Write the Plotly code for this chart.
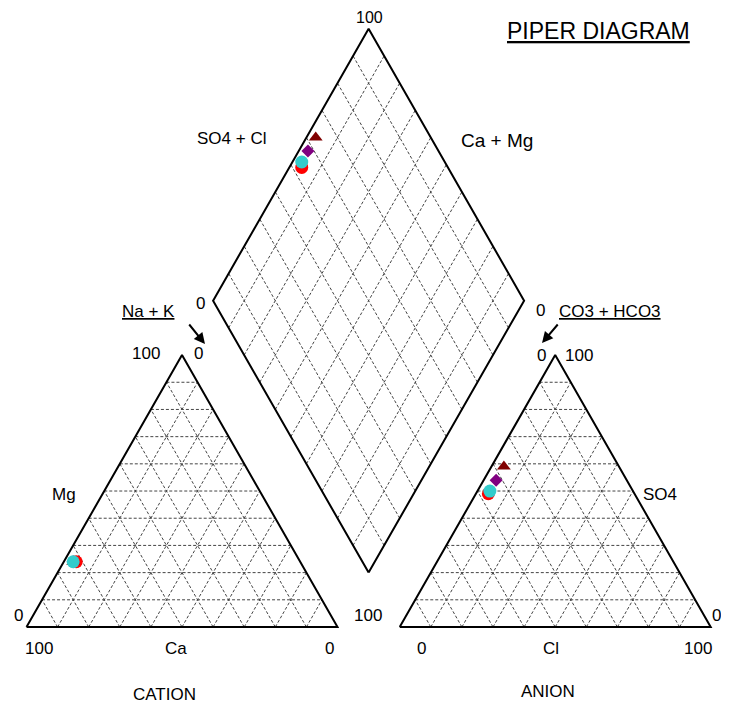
import numpy as np
import plotly.graph_objects as go

# ---------------- data (percent of meq) ----------------
samples = ["Sample 1", "Sample 4", "Sample 3", "Sample 2"]
ca = [72, 73, 73, 73]
mg = [24, 24, 24, 24]
na_k = [4, 3, 3, 3]
co3_hco3 = [47, 37, 42, 46]
so4 = [49, 59, 54, 50]
cl = [4, 4, 4, 4]
marker_symbols = ["circle", "triangle-up", "diamond", "circle"]
marker_colors = ["#FF0000", "#800000", "#800080", "#33CCCC"]
marker_sizes = [13, 12, 10, 13]

# ---------------- geometry ----------------
SQ = np.sqrt(3) / 2
GAP = 20.0
AN_X0 = 100 + GAP
DIA_X0 = 100 + GAP / 2
DIA_Y0 = GAP / 2 * np.sqrt(3)


def cation_xy(c, m, n):
    t = c + m + n
    m, n = 100 * m / t, 100 * n / t
    return n + m / 2, m * SQ


def anion_xy(c3, s4, c):
    t = c3 + s4 + c
    s4, c = 100 * s4 / t, 100 * c / t
    return AN_X0 + c + s4 / 2, s4 * SQ


def diamond_xy(a, b):
    # a = SO4 + Cl, b = Ca + Mg
    return DIA_X0 + 0.5 * (a - b), DIA_Y0 + SQ * (a + b)


fig = go.Figure()

# grid lines
gx, gy = [], []


def seg(p, q):
    gx.extend([p[0], q[0], None])
    gy.extend([p[1], q[1], None])


for k in range(10, 100, 10):
    # cation
    seg(cation_xy(100 - k, k, 0), cation_xy(0, k, 100 - k))
    seg(cation_xy(100 - k, 0, k), cation_xy(0, 100 - k, k))
    seg(cation_xy(k, 0, 100 - k), cation_xy(k, 100 - k, 0))
    # anion
    seg(anion_xy(100 - k, k, 0), anion_xy(0, k, 100 - k))
    seg(anion_xy(100 - k, 0, k), anion_xy(0, 100 - k, k))
    seg(anion_xy(k, 0, 100 - k), anion_xy(k, 100 - k, 0))
    # diamond
    seg(diamond_xy(k, 0), diamond_xy(k, 100))
    seg(diamond_xy(0, k), diamond_xy(100, k))

fig.add_trace(go.Scatter(x=gx, y=gy, mode="lines",
                         line=dict(color="#444444", width=1, dash="3px,2px"),
                         hoverinfo="skip", showlegend=False))

# outlines
ox, oy = [], []
for pts in (
    [cation_xy(100, 0, 0), cation_xy(0, 0, 100), cation_xy(0, 100, 0), cation_xy(100, 0, 0)],
    [anion_xy(100, 0, 0), anion_xy(0, 0, 100), anion_xy(0, 100, 0), anion_xy(100, 0, 0)],
    [diamond_xy(0, 0), diamond_xy(100, 0), diamond_xy(100, 100), diamond_xy(0, 100), diamond_xy(0, 0)],
):
    for p in pts:
        ox.append(p[0]); oy.append(p[1])
    ox.append(None); oy.append(None)

fig.add_trace(go.Scatter(x=ox, y=oy, mode="lines",
                         line=dict(color="black", width=2),
                         hoverinfo="skip", showlegend=False))

# sample points
for i, name in enumerate(samples):
    cx, cy = cation_xy(ca[i], mg[i], na_k[i])
    ax_, ay_ = anion_xy(co3_hco3[i], so4[i], cl[i])
    dx, dy = diamond_xy(so4[i] + cl[i], ca[i] + mg[i])
    fig.add_trace(go.Scatter(
        x=[cx, ax_, dx], y=[cy, ay_, dy], mode="markers", name=name,
        marker=dict(symbol=marker_symbols[i], color=marker_colors[i],
                    size=marker_sizes[i], line=dict(width=0)),
        showlegend=False))

# page is 729x711, the html body adds an 8px margin
PW, PH = 729, 711
OFF = 8
W, H = PW - OFF, PH - OFF
FONT = "Liberation Sans, Arial, sans-serif"


def lab(text, px, py, size=17, **kw):
    fig.add_annotation(x=(px - OFF) / W, y=1 - (py - OFF) / H, xref="paper", yref="paper",
                       text=text, showarrow=False, xanchor="center", yanchor="middle",
                       font=dict(family=FONT, size=size, color="black"), **kw)


lab("<u>PIPER DIAGRAM</u>", 598, 31, 23)
lab("100", 369, 18, 16)
lab("SO4 + Cl", 232, 139)
lab("Ca + Mg", 497, 140, 19)
lab("0", 200, 303)
lab("0", 540, 310)
lab("<u>Na + K</u>", 148, 311)
lab("100", 146, 354)
lab("0", 198, 354)
lab("Mg", 64, 494)
lab("0", 18, 615)
lab("100", 368, 615)
lab("100", 39, 648)
lab("Ca", 176, 648)
lab("0", 329, 648)
lab("CATION", 164, 694)
lab("<u>CO3 + HCO3</u>", 610, 311)
lab("0", 541, 355)
lab("100", 579, 355)
lab("SO4", 660, 494)
lab("0", 716, 615)
lab("0", 421, 648)
lab("Cl", 551, 648)
lab("100", 698, 648)
lab("ANION", 548, 691)

# arrows
for (tx, ty, hx, hy) in ((188, 323, 205, 344), (559, 323, 542, 343)):
    fig.add_annotation(x=(hx - OFF) / W, y=1 - (hy - OFF) / H, ax=tx - hx, ay=ty - hy,
                       xref="paper", yref="paper", axref="pixel", ayref="pixel",
                       text="", showarrow=True, arrowhead=2, arrowsize=1.1,
                       arrowwidth=2, arrowcolor="black")

# axis ranges chosen so that 100 units ~ 311 px
XS, YS = 3.11, 3.14
X0P, Y0P = 26.5, 627.0
fig.update_xaxes(range=[(OFF - X0P) / XS, (PW - X0P) / XS], visible=False, fixedrange=True)
fig.update_yaxes(range=[(Y0P - PH) / YS, (Y0P - OFF) / YS], visible=False, fixedrange=True)
fig.update_layout(width=W, height=H, margin=dict(l=0, r=0, t=0, b=0),
                  plot_bgcolor="white", paper_bgcolor="white", showlegend=False)

fig.write_html("out.html")
